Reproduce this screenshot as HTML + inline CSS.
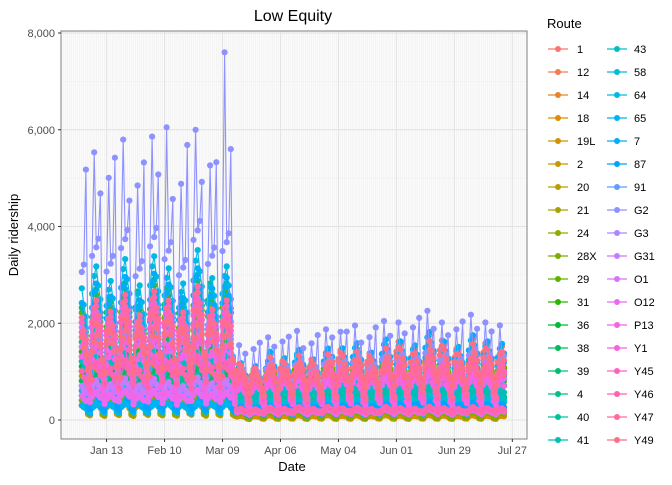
<!DOCTYPE html>
<html><head><meta charset="utf-8"><style>
body{margin:0;background:#fff;}
svg text{font-family:"Liberation Sans",Arial,sans-serif;}
</style></head><body>
<svg id="chart" width="672" height="480" xmlns="http://www.w3.org/2000/svg">
<text x="293" y="21" font-size="16" text-anchor="middle">Low Equity</text>
<g id="grid"></g>
<g id="series"></g>
<rect x="61" y="31" width="466" height="408" fill="none" stroke="#7f7f7f" stroke-width="1"/>
<g id="axes"></g>
<text x="292" y="471" font-size="13" text-anchor="middle">Date</text>
<text transform="translate(18,235) rotate(-90)" font-size="13" text-anchor="middle">Daily ridership</text>
<text x="547" y="28" font-size="13">Route</text>
<g id="legend"></g>
</svg>
<script>
const routes=["1","12","14","18","19L","2","20","21","24","28X","29","31","36","38","39","4","40","41","43","58","64","65","7","87","91","G2","G3","G31","O1","O12","P13","Y1","Y45","Y46","Y47","Y49"];
// period starts (day index from Jan 1): Jan1, Feb1, Mar1, Mar16, Apr1, May1, Jun1, Jul1
const periodStarts=[0,31,60,75,91,121,152,182];
const levels=[
[1500,1600,1500,1000,1100,1250,1400,1400],
[1200,1300,1200,800,850,950,1050,1050],
[600,650,600,300,300,350,350,400],
[900,950,900,600,650,700,750,750],
[300,320,300,80,80,80,80,80],
[1300,1350,1300,750,800,850,900,900],
[1700,1800,1700,950,1000,1050,1100,1100],
[1000,1050,1000,650,700,750,750,750],
[2000,2100,2200,1050,1050,1100,1150,1150],
[400,400,400,150,150,150,150,150],
[2200,2300,2400,1100,1050,1050,1050,1100],
[1400,1500,1400,750,750,800,850,850],
[1100,1200,1100,650,650,700,750,750],
[800,850,800,450,450,500,500,500],
[2300,2400,2400,950,900,950,950,1000],
[1600,1650,1600,850,850,900,950,950],
[700,750,700,450,450,470,500,500],
[1000,1050,1000,550,550,600,600,600],
[1200,1250,1200,650,700,700,750,750],
[600,650,600,350,350,370,400,400],
[2700,2800,2700,1100,1150,1200,1250,1250],
[300,300,300,250,250,250,250,250],
[2400,2500,2500,1100,1200,1350,1450,1450],
[500,520,500,250,250,270,300,300],
[1800,1900,1800,850,900,950,1000,1000],
[3400,3500,3500,1050,1100,1200,1300,1300],
[1900,2000,1900,950,950,1000,1050,1050],
[700,700,700,200,200,200,200,200],
[1500,1600,1500,800,800,850,900,900],
[500,500,500,180,180,180,180,180],
[1300,1350,1300,700,750,800,800,800],
[2000,2100,2000,950,950,1000,1050,1050],
[1800,1900,1800,850,900,950,1000,1000],
[1000,1050,1000,220,220,220,220,220],
[2100,2200,2100,900,900,950,1000,1000],
[1700,1800,1700,1050,1100,1200,1300,1300]];
const weekendRatio=[0.5,0.45,0.25,0.4,0.3,0.45,0.4,0.45,0.4,0.3,0.4,0.45,0.4,0.4,0.4,0.45,0.4,0.4,0.45,0.4,0.4,0.5,0.4,0.4,0.45,0.3,0.4,0.6,0.45,0.7,0.4,0.45,0.45,0.7,0.5,0.55];
// weekday profile Sun..Sat (weekend slots scaled by weekendRatio)
const dowProfile=[1,0.92,1.05,1.12,0.98,0.88,1.25];
const g2Profile=[1,0.95,1.55,1.0,1.05,1.45,1.3];
// per-week multiplier (week index from Jan 1)
const weekFactor=[0.9,1.05,0.95,1.1,0.92,1.08,1.0,0.9,1.12,0.97,1.05,0.95,0.9,1.05,0.95,1.08,0.93,1.1,0.98,1.05,0.92,1.1,1.0,0.95,1.12,1.0,0.93,1.08,1.0,0.97];
const spikeRoutes=["G2","G2","G2","G2"];
const spikeDays=[69,72,55,41];
const spikeValues=[7600,5600,6000,6050];
const xTicks=["Jan 13","Feb 10","Mar 09","Apr 06","May 04","Jun 01","Jun 29","Jul 27"];
const xTickDays=[12,40,68,96,124,152,180,208];
const yTicks=[0,2000,4000,6000,8000];
const yTickLabels=["0","2,000","4,000","6,000","8,000"];
const nDays=205; // Jan 1 .. Jul 23

const NS="http://www.w3.org/2000/svg";
const xs=d=>106.6+(d-12)*2.07;
const ys=v=>420-v*(387/8000);
function mk(t,a,p){const e=document.createElementNS(NS,t);for(const k in a)e.setAttribute(k,a[k]);p.appendChild(e);return e;}
function hcl(h){const L=65,C=100;const hr=h*Math.PI/180;const u=C*Math.cos(hr),v=C*Math.sin(hr);
const Xn=95.047,Yn=100,Zn=108.883;const Y=Yn*Math.pow((L+16)/116,3);
const d=Xn+15*Yn+3*Zn,un=4*Xn/d,vn=9*Yn/d;const up=u/(13*L)+un,vp=v/(13*L)+vn;
const X=9*Y*up/(4*vp),Z=-X/3-5*Y+3*Y/vp;const x=X/100,y=Y/100,z=Z/100;
let r=3.2404542*x-1.5371385*y-0.4985314*z,g=-0.9692660*x+1.8760108*y+0.0415560*z,b=0.0556434*x-0.2040259*y+1.0572252*z;
const gm=c=>{c=c<=0.0031308?12.92*c:1.055*Math.pow(c,1/2.4)-0.055;return Math.round(Math.max(0,Math.min(1,c))*255);};
return `rgb(${gm(r)},${gm(g)},${gm(b)})`;}
const colors=routes.map((r,i)=>hcl(15+i*10));

// grid
const grid=document.getElementById('grid');
mk('rect',{x:61,y:31,width:466,height:408,fill:'#fbfbfb'},grid);
for(let d=-10;d<=215;d++){const x=xs(d);if(x>61&&x<527)mk('line',{x1:x,x2:x,y1:31,y2:439,stroke:'#ececec','stroke-width':0.5},grid);}
for(let v=1000;v<=7000;v+=2000)mk('line',{x1:61,x2:527,y1:ys(v),y2:ys(v),stroke:'#eeeeee','stroke-width':0.6},grid);
yTicks.forEach(v=>mk('line',{x1:61,x2:527,y1:ys(v),y2:ys(v),stroke:'#e2e2e2','stroke-width':1},grid));
xTickDays.forEach(d=>mk('line',{x1:xs(d),x2:xs(d),y1:31,y2:439,stroke:'#e2e2e2','stroke-width':1},grid));

// axes
const axes=document.getElementById('axes');
yTicks.forEach((v,i)=>{mk('line',{x1:58,x2:61,y1:ys(v),y2:ys(v),stroke:'#333'},axes);
const t=mk('text',{x:55,y:ys(v)+4,'font-size':11,fill:'#4d4d4d','text-anchor':'end'},axes);t.textContent=yTickLabels[i];

});
xTickDays.forEach((d,i)=>{mk('line',{x1:xs(d),x2:xs(d),y1:439,y2:442,stroke:'#333'},axes);
const t=mk('text',{x:xs(d),y:454,'font-size':11,fill:'#4d4d4d','text-anchor':'middle'},axes);t.textContent=xTicks[i];

});

// series
const sg=document.getElementById('series');
routes.forEach((r,i)=>{
  const g=mk('g',{},sg);
  
  
  const pts=[];
  for(let d=0;d<nDays;d++){
    let p=0;for(let k=0;k<periodStarts.length;k++)if(d>=periodStarts[k])p=k;
    const dow=(d+3)%7; // Jan 1 2020 = Wednesday
    const wk=Math.floor((d+(i*3)%7)/7)%weekFactor.length;
    const prof=(r==="G2"?g2Profile:dowProfile)[dow];
    let v=levels[i][p]*prof*weekFactor[wk];
    if(dow===0||dow===6)v*=weekendRatio[i];
    spikeRoutes.forEach((sr,k)=>{if(sr===r&&spikeDays[k]===d)v=spikeValues[k];});
    pts.push([xs(d),ys(v)]);
  }
  mk('polyline',{points:pts.map(p=>p[0].toFixed(1)+','+p[1].toFixed(1)).join(' '),fill:'none',stroke:colors[i],'stroke-width':1.1},g);
  pts.forEach(p=>mk('circle',{cx:p[0].toFixed(1),cy:p[1].toFixed(1),r:3.1,fill:colors[i]},g));
});

// legend
const lg=document.getElementById('legend');
routes.forEach((r,i)=>{
  const col=i<18?0:1,row=i%18;
  const x0=col?607:548,y=49+row*23;
  const g=mk('g',{},lg);
  
  
  mk('line',{x1:x0,x2:x0+20,y1:y,y2:y,stroke:colors[i],'stroke-width':1.2},g);
  mk('circle',{cx:x0+10,cy:y,r:3,fill:colors[i]},g);
  const t=mk('text',{x:x0+(col?27:29),y:y+4,'font-size':11,fill:'#000'},g);t.textContent=r;
});
</script>
</body></html>
